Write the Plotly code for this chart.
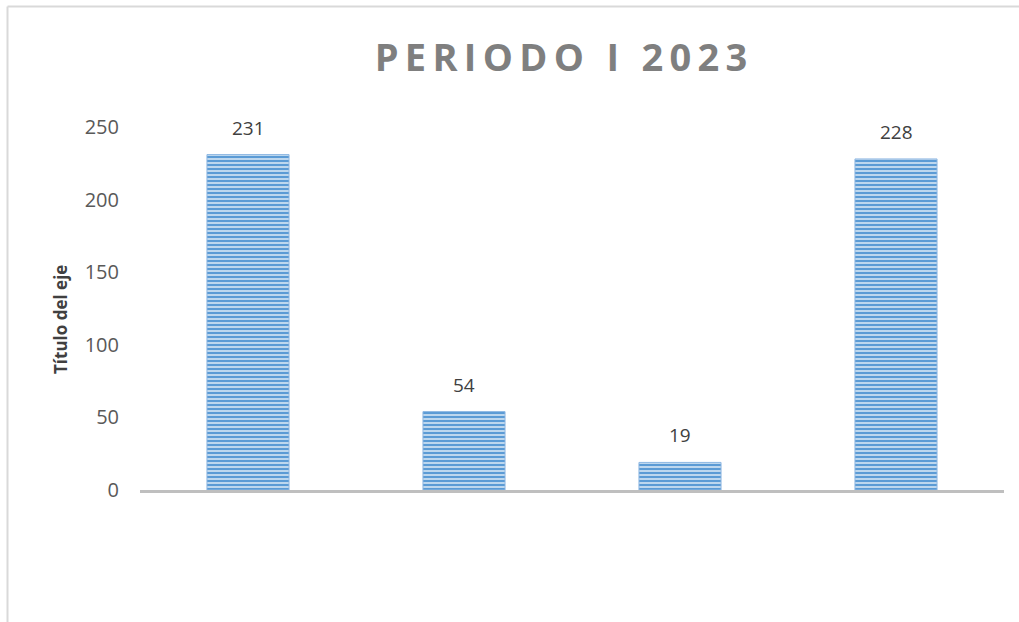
import plotly.graph_objects as go

categories = ["Cat 1", "Cat 2", "Cat 3", "Cat 4"]
values = [231, 54, 19, 228]
y_ticks = [0, 50, 100, 150, 200, 250]
title_text = "PERIODO I 2023"
y_title = "Título del eje"

W, H = 1019, 622
L, R, T, B = 140, 15, 127, 132
pw, ph = W - L - R, H - T - B

def px_x(px):
    return (px - L) / pw

def px_y(py):
    return (H - B - py) / ph

spaced_title = "\u2009".join(list(title_text))

fig = go.Figure(go.Bar(
    x=categories, y=values,
    cliponaxis=False,
    hoverinfo="skip",
    marker=dict(
        color="#5B9BD5",
        line=dict(color="#8DB7E2", width=1),
        pattern=dict(shape="-", fgcolor="#5B9BD5", bgcolor="#D6E6F5", size=4, solidity=0.6, fillmode="replace"),
    ),
))

annotations = [
    dict(x=c, y=v, xref="x", yref="y", text=str(v), showarrow=False, yanchor="bottom", yshift=12,
         font=dict(family="Open Sans", size=19, color="#404040"))
    for c, v in zip(categories, values)
]
annotations.append(dict(x=px_x(60), y=px_y(320), xref="paper", yref="paper", text="<b>" + y_title + "</b>",
                        textangle=-90, showarrow=False, xanchor="center", yanchor="middle",
                        font=dict(family="Open Sans", size=17, color="#404040")))

fig.update_layout(
    width=W, height=H,
    margin=dict(l=L, r=R, t=T, b=B, autoexpand=False),
    paper_bgcolor="white", plot_bgcolor="white",
    bargap=0.62,
    showlegend=False,
    title=dict(text="<b>" + spaced_title + "</b>", x=px_x(561), xref="paper", xanchor="center",
               y=1 - 58 / H, yref="container", yanchor="middle",
               font=dict(family="Open Sans", size=38, color="#7F7F7F")),
    xaxis=dict(type="category", showticklabels=False, showgrid=False, zeroline=False, showline=True,
               linecolor="#BFBFBF", linewidth=3, ticks=""),
    yaxis=dict(range=[0, 250], tickvals=y_ticks, showgrid=False, zeroline=False, showline=False,
               tickfont=dict(family="Open Sans", size=20, color="#595959"), ticks="", ticklabelstandoff=20),
    annotations=annotations,
    shapes=[
        dict(type="line", xref="paper", yref="paper", x0=px_x(7.5), x1=px_x(1019), y0=px_y(6.5), y1=px_y(6.5),
             line=dict(color="#D9D9D9", width=2)),
        dict(type="line", xref="paper", yref="paper", x0=px_x(7.5), x1=px_x(7.5), y0=px_y(6.5), y1=px_y(622),
             line=dict(color="#D9D9D9", width=2)),
    ],
)

fig.write_html("out.html", config={"displayModeBar": False},
               post_script="document.body.style.margin='0';document.body.style.padding='0';")
